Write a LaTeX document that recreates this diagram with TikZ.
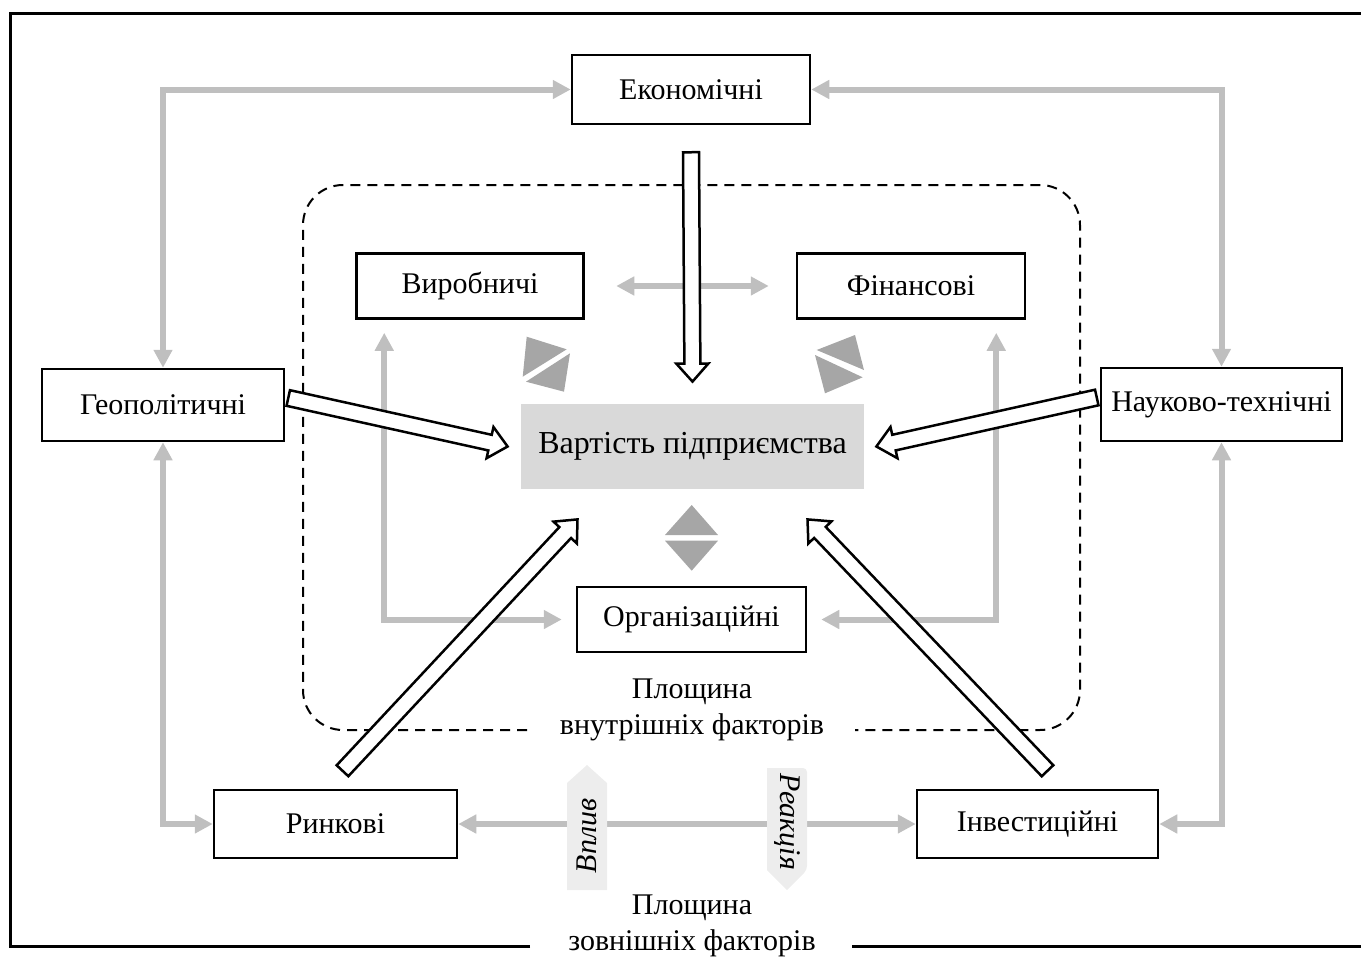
\documentclass[tikz,border=0pt]{standalone}
\usepackage{fontspec}
\setmainfont{Liberation Serif}
\usetikzlibrary{arrows.meta,calc}

\definecolor{linkgray}{HTML}{BFBFBF}
\definecolor{trigray}{HTML}{A6A6A6}
\definecolor{corefill}{HTML}{D9D9D9}
\definecolor{tagfill}{HTML}{EDEDED}

% hollow block arrow from #1 to #2 (tip at #2)
\newcommand\fatarrow[2]{%
  \coordinate (fa-b) at ($(#2)!9pt!(#1)$);
  \draw[fat] ($(#1)!4pt!90:(#2)$) -- ($(fa-b)!4pt!90:(#2)$)
    -- ($(fa-b)!8pt!90:(#2)$) -- (#2)
    -- ($(fa-b)!8pt!-90:(#2)$) -- ($(fa-b)!4pt!-90:(#2)$)
    -- ($(#1)!4pt!-90:(#2)$) -- cycle;
}

\begin{document}
\begin{tikzpicture}[x=0.5pt,y=-0.5pt,
  wh/.style 2 args={minimum width=#1*0.5pt, minimum height=#2*0.5pt},
  box/.style={draw=black, line width=1.25pt, fill=white, inner sep=0pt,
    font=\fontsize{15}{18}\selectfont},
  core/.style={fill=corefill, inner sep=0pt, font=\fontsize{16}{19}\selectfont},
  lbl/.style={align=center, inner sep=0pt, font=\fontsize{15}{18}\selectfont},
  tag/.style={inner sep=0pt, font=\fontsize{15}{18}\selectfont\itshape},
  gc/.style={draw=linkgray, line width=3pt,
    {Triangle[length=9pt,width=9pt]}-{Triangle[length=9pt,width=9pt]}},
  fat/.style={draw=black, fill=white, line width=1.25pt, line join=miter},
  frameline/.style={draw=black, line width=1.5pt, line join=miter},
  plane/.style={draw=black, line width=1pt, dash pattern=on 5pt off 3.5pt,
    rounded corners=20pt}]

\useasboundingbox (0,0) rectangle (1361,959);

% outer frame, open at the right, with a gap for its caption
\draw[frameline] (530,946) -- (10,946) -- (10,13) -- (1361,13);
\draw[frameline] (852,946) -- (1361,946);

% dashed plane of internal factors
\draw[plane] (527,730) -| (303,185) -| (1080,730) -- (855,730);

% factor boxes
\node[box, wh={238}{69}] (econ) at (691,89.5) {Економічні};
\node[box, wh={227}{65}] (vyr) at (470,286) {Виробничі};
\node[box, wh={228}{65}] (fin) at (911,286) {Фінансові};
\node[box, wh={242}{72}] (geo) at (163,405) {Геополітичні};
\node[box, wh={241}{73}] (nauk) at (1221.5,404.5) {Науково-технічні};
\node[core, wh={343}{85}] (vart) at (692.5,446.5) {Вартість підприємства};
\node[box, wh={229}{65}] (org) at (691.5,619.5) {Організаційні};
\node[box, wh={243}{68}] (rynk) at (335.5,824) {Ринкові};
\node[box, wh={241}{68}] (inv) at (1037.5,824) {Інвестиційні};

% gray two-way links
\draw[gc] (econ.west) -| (geo.north);
\draw[gc] (econ.east) -| (nauk.north);
\draw[gc] (geo.south) |- (rynk.west);
\draw[gc] (nauk.south) |- (inv.east);
\draw[gc] (rynk.east) -- (inv.west);
\draw[gc, shorten <=15.75pt, shorten >=13.5pt] (vyr.east) -- (fin.west);
\draw[gc, shorten <=6.5pt, shorten >=7pt] ($(vyr.south west)+(29,0)$) |- (org.west);
\draw[gc, shorten <=6.5pt, shorten >=7pt] ($(fin.south east)+(-30,0)$) |- (org.east);

% paired triangles between the core and internal factors
\fill[trigray] (526.7,336.7) -- (566.7,349.3) -- (522.7,376.7) -- cycle;
\fill[trigray] (526,381.7) -- (570,353.3) -- (564,391.7) -- cycle;
\fill[trigray] (855,335) -- (816.7,350) -- (864,370) -- cycle;
\fill[trigray] (815,355) -- (862.7,377.3) -- (825,393.3) -- cycle;
\fill[trigray] (691.7,505) -- (718,535) -- (665,535) -- cycle;
\fill[trigray] (665,540.7) -- (718,540.7) -- (691.7,570.7) -- cycle;

% block arrows of external influence
\coordinate (eA) at ($(econ.south)+(0,27)$);
\coordinate (eB) at ($(vart.north)+(0,-22)$);
\coordinate (gA) at ($(geo.east)+(3,-7)$);
\coordinate (gB) at ($(vart.west)+(-13,0)$);
\coordinate (nA) at ($(nauk.west)+(-3,-7)$);
\coordinate (nB) at ($(vart.east)+(12,0)$);
\coordinate (rA) at ($(rynk.north)+(7,-18)$);
\coordinate (rB) at ($(vart.south)+(-115,30)$);
\coordinate (iA) at ($(inv.north)+(10,-18)$);
\coordinate (iB) at ($(vart.south)+(115,30)$);
\fatarrow{eA}{eB}
\fatarrow{gA}{gB}
\fatarrow{nA}{nB}
\fatarrow{rA}{rB}
\fatarrow{iA}{iB}

% influence / reaction tags on the bottom link
\fill[tagfill] (567,783) -- (587,765) -- (607,783) -- (607,890) -- (567,890) -- cycle;
\fill[tagfill, rounded corners=2pt] (767,768) -- (807,768) -- (807,870) [sharp corners] -- (787,890) -- (767,870) -- cycle;
\node[tag, rotate=90] (vplyv) at (587,836) {Вплив};
\node[tag, rotate=-90] (reakc) at (787,822) {Реакція};

% plane captions
\node[lbl, fill=white] (inner) at (692,710) {Площина\\внутрішніх факторів};
\node[lbl] (outer) at (692,926) {Площина\\зовнішніх факторів};

\end{tikzpicture}
\end{document}
